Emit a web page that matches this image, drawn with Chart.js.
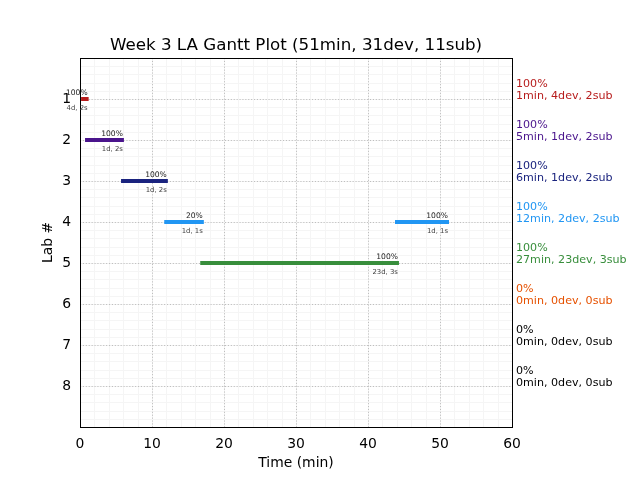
<!DOCTYPE html>
<html>
<head>
<meta charset="utf-8">
<script src="https://cdn.jsdelivr.net/npm/chart.js@4.4.1/dist/chart.umd.min.js"></script>
<style>
  html, body { margin: 0; padding: 0; background: #fff; }
  #wrap { width: 640px; height: 480px; }
</style>
</head>
<body>
<div id="wrap"><canvas id="gantt" width="640" height="480"></canvas></div>
<script>
// chart data
const chartTitle = "Week 3 LA Gantt Plot (51min, 31dev, 11sub)";
const labs = [1, 2, 3, 4, 5, 6, 7, 8];
const labColors = ["#b71c1c", "#4a148c", "#1a237e", "#2196f3", "#388e3c", "#e65100", "#000000", "#000000"];
const labPct = ["100%", "100%", "100%", "100%", "100%", "0%", "0%", "0%"];
const labSummary = [
    "1min, 4dev, 2sub", "5min, 1dev, 2sub", "6min, 1dev, 2sub", "12min, 2dev, 2sub",
    "27min, 23dev, 3sub", "0min, 0dev, 0sub", "0min, 0dev, 0sub", "0min, 0dev, 0sub"
];

// one entry per bar segment
const segLab = [1, 2, 3, 4, 4, 5];
const segStart = [0.15, 0.7, 5.7, 11.7, 43.75, 16.7];
const segEnd = [1.2, 6.1, 12.2, 17.2, 51.25, 44.3];
const segPct = ["100%", "100%", "100%", "20%", "100%", "100%"];
const segInfo = ["4d, 2s", "1d, 2s", "1d, 2s", "1d, 1s", "1d, 1s", "23d, 3s"];

const xTicks = [0, 10, 20, 30, 40, 50, 60];
const yTicks = labs;

const FONT = "'DejaVu Sans', sans-serif";

let datasets = segLab.map((lab, i) => ({
    data: [{ x: segStart[i], y: lab }, { x: segEnd[i], y: lab }],
    borderColor: labColors[lab - 1],
    borderWidth: 4,
    borderCapStyle: 'butt',
    showLine: true,
    pointRadius: 0
}));

// matplotlib-ish grid, frame and text
const mplPlugin = {
    id: 'mpl',
    beforeDatasetsDraw(chart) {
        const { ctx, chartArea: a, scales } = chart;
        const x = scales.x, y = scales.y;
        ctx.save();
        // minor grid
        ctx.strokeStyle = '#f5f5f5';
        ctx.lineWidth = 1;
        for (let v = 0; v <= 60; v += 2) {
            const px = Math.round(x.getPixelForValue(v)) + 0.5;
            ctx.beginPath(); ctx.moveTo(px, a.top); ctx.lineTo(px, a.bottom); ctx.stroke();
        }
        for (let k = 0; k <= 45; k++) {
            const py = Math.round(y.getPixelForValue(k * 0.2)) + 0.5;
            ctx.beginPath(); ctx.moveTo(a.left, py); ctx.lineTo(a.right, py); ctx.stroke();
        }
        // major grid
        ctx.strokeStyle = '#b0b0b0';
        ctx.lineWidth = 0.8;
        ctx.setLineDash([1.1, 1.8]);
        xTicks.forEach(v => {
            const px = Math.round(x.getPixelForValue(v)) + 0.5;
            ctx.beginPath(); ctx.moveTo(px, a.top); ctx.lineTo(px, a.bottom); ctx.stroke();
        });
        yTicks.forEach(v => {
            const py = Math.round(y.getPixelForValue(v)) + 0.5;
            ctx.beginPath(); ctx.moveTo(a.left, py); ctx.lineTo(a.right, py); ctx.stroke();
        });
        ctx.restore();
    },
    afterDraw(chart) {
        const { ctx, chartArea: a, scales } = chart;
        const x = scales.x, y = scales.y;
        ctx.save();
        // frame
        ctx.strokeStyle = '#000';
        ctx.lineWidth = 1;
        ctx.strokeRect(a.left + 0.5, a.top + 0.5, a.right - a.left, a.bottom - a.top);

        // bar labels
        ctx.textAlign = 'right';
        segLab.forEach((lab, i) => {
            const px = x.getPixelForValue(segEnd[i]) - 1;
            const py = y.getPixelForValue(lab);
            ctx.fillStyle = '#222';
            ctx.font = "7.6px " + FONT;
            ctx.textBaseline = 'bottom';
            ctx.fillText(segPct[i], px, py - 2);
            ctx.fillStyle = '#444';
            ctx.font = "6.9px " + FONT;
            ctx.textBaseline = 'top';
            ctx.fillText(segInfo[i], px, py + 6);
        });

        // right side summaries
        ctx.textAlign = 'left';
        ctx.textBaseline = 'alphabetic';
        ctx.font = "11.1px " + FONT;
        labs.forEach((lab, i) => {
            const py = y.getPixelForValue(lab);
            ctx.fillStyle = labColors[i];
            ctx.fillText(labPct[i], a.right + 4, py - 12);
            ctx.fillText(labSummary[i], a.right + 4, py);
        });

        // title and axis titles
        ctx.fillStyle = '#000';
        ctx.textAlign = 'center';
        ctx.font = "16.7px " + FONT;
        ctx.fillText(chartTitle, (a.left + a.right) / 2, 50);
        ctx.font = "13.9px " + FONT;
        ctx.textBaseline = 'middle';
        ctx.fillText("Time (min)", (a.left + a.right) / 2, 463);
        ctx.translate(48, (a.top + a.bottom) / 2);
        ctx.rotate(-Math.PI / 2);
        ctx.fillText("Lab #", 0, 0);
        ctx.restore();
    }
};

const ctx = document.getElementById('gantt').getContext('2d');
new Chart(ctx, {
    type: 'scatter',
    data: { datasets: datasets },
    plugins: [mplPlugin],
    options: {
        responsive: false,
        animation: false,
        layout: { padding: { top: 58, right: 128, bottom: 0, left: 0 } },
        plugins: {
            legend: { display: false },
            tooltip: { enabled: false }
        },
        scales: {
            x: {
                type: 'linear',
                min: 0,
                max: 60,
                afterBuildTicks: s => { s.ticks = xTicks.map(v => ({ value: v })); },
                afterFit: s => { s.height = 53; },
                ticks: { color: '#000', padding: 4, font: { family: FONT, size: 13.9 }, maxRotation: 0 },
                grid: { drawOnChartArea: false, tickLength: 5, tickColor: 'rgba(0,0,0,0)', color: 'rgba(0,0,0,0)' },
                border: { display: true, color: '#000' }
            },
            y: {
                type: 'linear',
                reverse: true,
                min: 0,
                max: 9,
                afterBuildTicks: s => { s.ticks = yTicks.map(v => ({ value: v })); },
                afterFit: s => { s.width = 80; },
                ticks: { color: '#000', padding: 4, font: { family: FONT, size: 13.9 } },
                grid: { drawOnChartArea: false, tickLength: 5, tickColor: 'rgba(0,0,0,0)', color: 'rgba(0,0,0,0)' },
                border: { display: true, color: '#000' }
            }
        }
    }
});
</script>
</body>
</html>
